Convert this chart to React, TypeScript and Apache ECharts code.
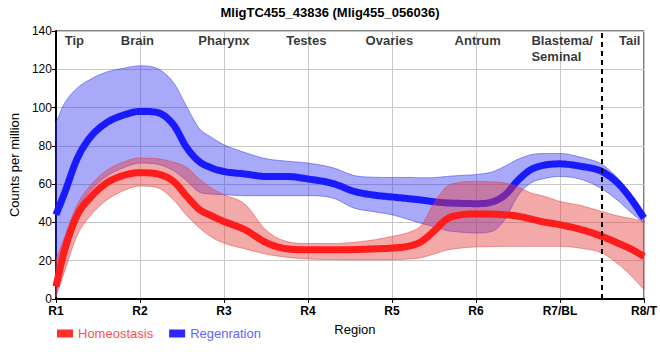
import React, { useEffect, useRef } from "react";
import * as echarts from "echarts";

const xs = [1.0, 1.1, 1.25, 1.4, 1.6, 1.8, 2.0, 2.2, 2.4, 2.55, 2.7, 2.85, 3.0, 3.25, 3.5, 3.75, 4.0, 4.3, 4.55, 4.8, 5.0, 5.2, 5.35, 5.5, 5.65, 5.8, 6.0, 6.2, 6.35, 6.5, 6.65, 6.8, 7.0, 7.25, 7.5, 7.7, 7.85, 8.0];

const regenMean = [44, 55, 73, 84, 92, 96, 98, 97.5, 91, 79.5, 72, 68.5, 66.6, 65.3, 64, 64, 62.7, 60.3, 56.2, 54.2, 53.3, 52.4, 51.7, 50.8, 50.2, 50, 49.8, 50.8, 54.5, 62, 67.5, 69.8, 70.6, 69.3, 66.6, 60, 52, 42.3];
const regenUpper = [92, 102, 110, 114.5, 118.5, 120.5, 121.8, 120.5, 113, 101, 89.5, 84.5, 80.6, 76.5, 73.3, 72, 71, 68.5, 64.5, 63.6, 63.5, 63.5, 63.3, 63.4, 64, 64.5, 65, 66.5, 69.5, 73, 75.3, 76, 76, 74, 70.3, 62.5, 54, 45];
const regenLower = [1, 29, 46, 56, 64, 68.5, 71, 70.5, 67, 62, 56, 54.8, 54.5, 54, 54, 54, 54, 52.7, 47.5, 45.5, 44, 41.5, 39.5, 37.8, 35.8, 35, 34.5, 35.5, 42, 54, 60.5, 62.8, 64, 62.5, 57.5, 51, 45, 39.7];

const homeoMean = [6.5, 25, 43.5, 52.5, 60.5, 64.5, 66, 65.4, 61.4, 54, 47, 43.5, 40.5, 36.2, 29.5, 26.2, 25.7, 25.7, 25.8, 26.2, 26.6, 27.6, 30, 35.5, 41.7, 43.8, 44.4, 44.3, 44, 43.3, 41.8, 40.3, 38.8, 36.3, 32.7, 29, 26, 22.2];
const homeoUpper = [20.5, 32, 49, 58.8, 67, 71.5, 73.6, 73.3, 71.5, 69, 63, 58, 54.5, 49.5, 36, 30, 29, 29, 29.6, 31, 32.7, 34.8, 38.5, 50, 58.6, 60.8, 61.4, 61.2, 60.6, 58.5, 55.5, 53.8, 51, 48.8, 45.7, 43.3, 42, 40.5];
const homeoLower = [1, 14, 33, 43, 51.5, 56.5, 59, 58.3, 51.8, 44, 37.5, 32.4, 29.2, 26.2, 23.5, 21.8, 20.9, 20.6, 20.5, 20.5, 20.5, 20.9, 21.6, 23.5, 25.5, 26.5, 27.2, 27.4, 27.5, 27.5, 27.5, 27.5, 27.5, 26.5, 24, 18, 12, 4.9];

const tickLabels = ["R1", "R2", "R3", "R4", "R5", "R6", "R7/BL", "R8/T"];
const regionNames = ["Tip", "Brain", "Pharynx", "Testes", "Ovaries", "Antrum", "Blastema/\nSeminal", "Tail"];
const regionX = [1.22, 1.97, 3.0, 3.98, 4.97, 6.02, 6.66, 7.83];
const boundaryX = 7.5;

const FONT = "Liberation Sans, Arial, sans-serif";

// Monotone cubic (Fritsch–Carlson) sampling of a curve through the data, used only to draw smooth curves
function smoothCurve(x: number[], y: number[], steps = 10): number[][] {
  const n = x.length;
  const d: number[] = [];
  for (let i = 0; i < n - 1; i++) d.push((y[i + 1] - y[i]) / (x[i + 1] - x[i]));
  const m: number[] = new Array(n);
  m[0] = d[0];
  m[n - 1] = d[n - 2];
  for (let i = 1; i < n - 1; i++) {
    if (d[i - 1] * d[i] <= 0) m[i] = 0;
    else m[i] = (d[i - 1] + d[i]) / 2;
  }
  for (let i = 0; i < n - 1; i++) {
    if (d[i] === 0) {
      m[i] = 0;
      m[i + 1] = 0;
      continue;
    }
    const a = m[i] / d[i];
    const b = m[i + 1] / d[i];
    const s = a * a + b * b;
    if (s > 9) {
      const t = 3 / Math.sqrt(s);
      m[i] = t * a * d[i];
      m[i + 1] = t * b * d[i];
    }
  }
  const out: number[][] = [];
  for (let i = 0; i < n - 1; i++) {
    const h = x[i + 1] - x[i];
    for (let k = 0; k < steps; k++) {
      const t = k / steps;
      const h00 = 2 * t * t * t - 3 * t * t + 1;
      const h10 = t * t * t - 2 * t * t + t;
      const h01 = -2 * t * t * t + 3 * t * t;
      const h11 = t * t * t - t * t;
      out.push([x[i] + t * h, h00 * y[i] + h10 * h * m[i] + h01 * y[i + 1] + h11 * h * m[i + 1]]);
    }
  }
  out.push([x[n - 1], y[n - 1]]);
  return out;
}

function bandSeries(name: string, lower: number[], upper: number[], fill: string, stroke: string, z: number) {
  return {
    name,
    type: "custom",
    z,
    silent: true,
    data: xs.map((x, i) => [x, lower[i], upper[i]]),
    encode: { x: 0, y: [1, 2] },
    renderItem: (params: any, api: any) => {
      if (params.dataIndex !== 0) return null;
      const up = smoothCurve(xs, upper).map((p) => api.coord(p));
      const lo = smoothCurve(xs, lower).map((p) => api.coord(p)).reverse();
      return {
        type: "polygon",
        shape: { points: up.concat(lo) },
        style: { fill, stroke, lineWidth: 1 },
      };
    },
  };
}

function meanSeries(name: string, values: number[], color: string, legendColor: string, z: number) {
  return {
    name,
    type: "custom",
    z,
    silent: true,
    itemStyle: { color: legendColor },
    data: xs.map((x, i) => [x, values[i]]),
    encode: { x: 0, y: 1 },
    renderItem: (params: any, api: any) => {
      if (params.dataIndex !== 0) return null;
      const pts = smoothCurve(xs, values).map((p) => api.coord(p));
      return {
        type: "polyline",
        shape: { points: pts },
        style: { fill: null, stroke: color, lineWidth: 7, lineJoin: "round", lineCap: "butt" },
      };
    },
  };
}

export default function App() {
  const ref = useRef<HTMLDivElement>(null);
  useEffect(() => {
    if (!ref.current) return;
    const chart = echarts.init(ref.current, undefined, { renderer: "svg" });
    chart.setOption({
      animation: false,
      backgroundColor: "#fff",
      title: {
        text: "MligTC455_43836 (Mlig455_056036)",
        left: "center",
        top: 1,
        textStyle: { fontFamily: FONT, fontSize: 13, fontWeight: "bold", color: "#000" },
      },
      grid: { left: 50, right: 10, top: 31, bottom: 61, show: true, borderColor: "#000", borderWidth: 1 },
      legend: {
        left: 52,
        top: 322,
        itemWidth: 16,
        itemHeight: 8,
        itemGap: 16,
        icon: "rect",
        textStyle: { fontFamily: FONT, fontSize: 13 },
        data: [
          { name: "Homeostasis", icon: "rect", itemStyle: { color: "#ff3030" }, textStyle: { color: "#ff4f4f" } },
          { name: "Regenration", icon: "rect", itemStyle: { color: "#2a2aff" }, textStyle: { color: "#6464ff" } },
        ],
      },
      xAxis: {
        type: "value",
        min: 1,
        max: 8,
        interval: 1,
        name: "Region",
        nameLocation: "middle",
        nameGap: 24,
        nameTextStyle: { fontFamily: FONT, fontSize: 13, color: "#000", padding: [0, 0, 0, 10] },
        axisLine: { lineStyle: { color: "#000", width: 2 } },
        axisTick: { show: true, length: 4, lineStyle: { color: "#000" } },
        axisLabel: {
          fontFamily: FONT,
          fontSize: 12,
          fontWeight: "bold",
          color: "#000",
          margin: 6,
          showMinLabel: true,
          showMaxLabel: true,
          formatter: (v: number) => tickLabels[Math.round(v) - 1] ?? "",
        },
        splitLine: { show: true, lineStyle: { color: "#c8c8c8", width: 1 } },
      },
      yAxis: {
        type: "value",
        min: 0,
        max: 140,
        interval: 20,
        name: "Counts per million",
        nameLocation: "middle",
        nameGap: 31,
        nameTextStyle: { fontFamily: FONT, fontSize: 13, color: "#000" },
        axisLine: { show: true, lineStyle: { color: "#000", width: 2 } },
        axisTick: { show: true, length: 4, lineStyle: { color: "#000" } },
        axisLabel: { fontFamily: FONT, fontSize: 12, color: "#000", margin: 4 },
        splitLine: { show: true, lineStyle: { color: "#c8c8c8", width: 1 } },
      },
      series: [
        bandSeries("regenBand", regenLower, regenUpper, "rgba(40,40,240,0.4)", "rgba(60,60,230,0.55)", 1),
        meanSeries("Regenration", regenMean, "#1a1aff", "#2a2aff", 2),
        bandSeries("homeoBand", homeoLower, homeoUpper, "rgba(230,60,60,0.44)", "rgba(225,60,60,0.5)", 3),
        meanSeries("Homeostasis", homeoMean, "#ff1c1c", "#ff3030", 4),
        {
          name: "boundary",
          type: "line",
          silent: true,
          z: 6,
          symbol: "none",
          data: [
            [boundaryX, 0],
            [boundaryX, 140],
          ],
          lineStyle: { color: "#000", type: [5, 4], width: 2 },
        },
        {
          name: "regions",
          type: "scatter",
          symbolSize: 0,
          silent: true,
          z: 5,
          data: regionNames.map((n, i) => ({
            value: [regionX[i], 139],
            name: n,
            label: n.includes("\n") ? { align: "left" } : { align: "center" },
          })),
          label: {
            show: true,
            position: "inside",
            formatter: (p: any) => p.name,
            fontFamily: FONT,
            fontSize: 13,
            fontWeight: "bold",
            color: "#000",
            verticalAlign: "top",
            lineHeight: 16,
          },
        },
      ],
    });
    return () => chart.dispose();
  }, []);
  return (
    <div
      ref={ref}
      style={{ position: "fixed", left: 0, top: 0, width: 660, height: 360 }}
    />
  );
}
